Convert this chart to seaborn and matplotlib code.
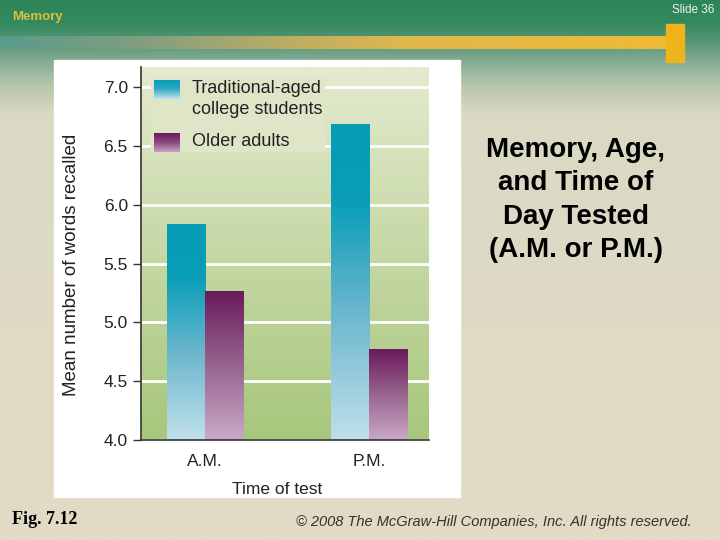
import numpy as np
import pandas as pd
import matplotlib
matplotlib.use("Agg")
import matplotlib.pyplot as plt
from matplotlib.colors import to_rgb
from matplotlib.patches import Rectangle, Patch
import seaborn as sns

# Values (Fig. 7.12)
times = ["A.M.", "P.M."]
groups = ["Traditional-aged\ncollege students", "Older adults"]
students = [5.83, 6.68]
older = [5.26, 4.77]
y_ticks = [4.0, 4.5, 5.0, 5.5, 6.0, 6.5, 7.0]

df = pd.DataFrame({
    "time": times * 2,
    "group": [groups[0]] * len(times) + [groups[1]] * len(times),
    "words": students + older,
})


def gradient(stops, n=256):
    # stops: (position from 0 = start to 1 = end, colour)
    pos = [p for p, c in stops]
    cols = np.array([to_rgb(c) for p, c in stops])
    t = np.linspace(0, 1, n)
    return np.stack([np.interp(t, pos, cols[:, k]) for k in range(3)], axis=-1)


teal_bar = gradient([(0, '#069cb6'), (0.25, '#0a9eb8'), (0.6, '#6db7ce'), (1, '#bfe0ea')])
plum_bar = gradient([(0, '#6a1a5c'), (0.5, '#98658e'), (1, '#caa8c9')])
teal_sw = gradient([(0, '#0a9cb5'), (0.45, '#2aa8c2'), (1, '#c2e3ee')])
plum_sw = gradient([(0, '#6a1a5c'), (0.5, '#8c4a80'), (1, '#c9a2c3')])

sns.set_theme(style="ticks")
plt.rcParams['font.family'] = ['Liberation Sans', 'DejaVu Sans']

fig = plt.figure(figsize=(7.2, 5.4), dpi=100)

# slide background, in pixel coordinates
bg = fig.add_axes([0, 0, 1, 1])
bg.set_xlim(0, 720)
bg.set_ylim(540, 0)
bg.axis('off')
slide = gradient([(0, '#2c8558'), (0.04, '#338a5e'), (0.08, '#5a9878'),
                  (0.12, '#8fb09a'), (0.16, '#bac6ac'), (0.21, '#dad9c4'),
                  (1, '#e2dbc5')])
bg.imshow(slide[:, None, :], extent=[0, 720, 540, 0], aspect='auto', zorder=0)
band = gradient([(0, '#5a9b8c'), (0.2, '#7f9e80'), (0.4, '#b5ab68'),
                 (0.6, '#e0b74c'), (1, '#f0bb35')])
bg.imshow(band[None, :, :], extent=[0, 672, 49, 36], aspect='auto', zorder=1)
bg.add_patch(Rectangle((666, 24), 18, 38, color='#efb41c', zorder=2))
bg.add_patch(Rectangle((54, 60), 406, 437, color='white', zorder=2))

bg.text(12, 17, "Memory", fontsize=9.5, fontweight='bold', color='#d9c23a',
        ha='left', va='center')
bg.text(714, 10, "Slide 36", fontsize=8.5, color='#eef3ee', ha='right', va='center')
bg.text(576, 200, "Memory, Age,\nand Time of\nDay Tested\n(A.M. or P.M.)",
        fontsize=20, fontweight='bold', color='black', ha='center', va='center',
        linespacing=1.38)
bg.text(12, 520, "Fig. 7.12", fontsize=13, fontweight='bold', color='black',
        family=['Liberation Serif', 'DejaVu Serif'], ha='left', va='center')
bg.text(692, 522, "© 2008 The McGraw-Hill Companies, Inc. All rights reserved.",
        fontsize=10.5, style='italic', color='#333333', ha='right', va='center')

# the chart itself
ax = fig.add_axes([141 / 720, 1 - 440 / 540, 288 / 720, 373 / 540])
sns.barplot(data=df, x="time", y="words", hue="group",
            palette=['#069cb6', '#6a1a5c'], saturation=1, width=0.466, gap=0,
            errorbar=None, legend=False, linewidth=0, edgecolor='none', ax=ax)
ax.set_xlim(-0.389, 1.362)
ax.set_ylim(4.0, 7.17)

face = gradient([(0, '#e4eacf'), (1, '#a7c77b')])
ax.imshow(face[:, None, :], extent=[0, 1, 0, 1], transform=ax.transAxes,
          aspect='auto', zorder=0)

for cont, grad in zip(ax.containers, [teal_bar, plum_bar]):
    for bar in cont:
        x0 = bar.get_x()
        top = bar.get_y() + bar.get_height()
        ax.imshow(grad[:, None, :], extent=[x0, x0 + bar.get_width(), 4.0, top],
                  aspect='auto', zorder=2)

ax.set_yticks(y_ticks)
ax.yaxis.grid(True, color='white', linewidth=2)
ax.xaxis.grid(False)
ax.set_axisbelow(True)
sns.despine(ax=ax)
for side in ['left', 'bottom']:
    ax.spines[side].set_color('#333333')
    ax.spines[side].set_linewidth(1.2)
ax.tick_params(axis='y', length=6, width=1, color='#333333', pad=3.5,
               labelsize=12.5, labelcolor='#222222')
ax.tick_params(axis='x', length=0, pad=10, labelsize=12.5, labelcolor='#222222')

ax.set_ylabel("Mean number of words recalled", fontsize=13.5, color='#222222')
ax.yaxis.set_label_coords(-0.212, 0.47)
ax.set_xlabel("Time of test", fontsize=12.5, color='#222222')
ax.xaxis.set_label_coords(0.474, -0.113)

# legend handles are drawn as gradient swatches afterwards
handles = [Patch(facecolor='none', edgecolor='none'),
           Patch(facecolor='none', edgecolor='none')]
leg = ax.legend(handles, groups, loc='upper left', bbox_to_anchor=(0.035, 0.973),
                frameon=True, facecolor='#dfe6c8', edgecolor='none', framealpha=1,
                fancybox=False, fontsize=13, handlelength=1.38, handleheight=1.1,
                handletextpad=0.72, labelspacing=0.72, borderpad=0.15,
                borderaxespad=0)
for t in leg.get_texts():
    t.set_color('#222222')
    t.set_linespacing(1.32)

fig.canvas.draw()
renderer = fig.canvas.get_renderer()
inv = ax.transAxes.inverted()
for h, t, grad in zip(leg.legend_handles, leg.get_texts(), [teal_sw, plum_sw]):
    hb = h.get_window_extent(renderer)
    tb = t.get_window_extent(renderer)
    top = tb.y1
    (x0, y0), (x1, y1) = inv.transform([[hb.x0, top - 19], [hb.x0 + 25, top]])
    ax.imshow(grad[:, None, :], extent=[x0, x1, y0, y1], transform=ax.transAxes,
              aspect='auto', zorder=6, clip_on=False)

fig.savefig("out.png", dpi=100)
